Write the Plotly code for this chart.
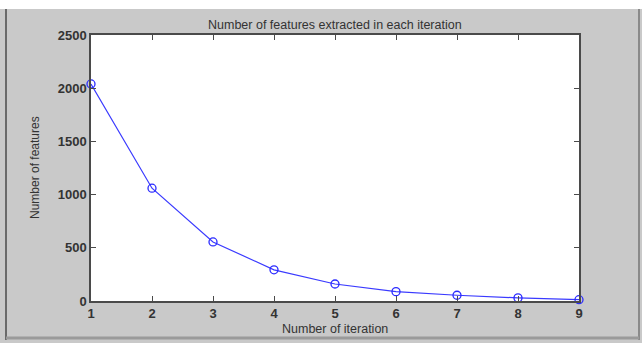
import plotly.graph_objects as go

iterations = [1, 2, 3, 4, 5, 6, 7, 8, 9]
features = [2040, 1060, 555, 293, 160, 88, 54, 29, 12]
y_ticks = [0, 500, 1000, 1500, 2000, 2500]

W, H = 642, 343
L, R, T, B = 91, 63, 35, 42
pw, ph = W - L - R, H - T - B

def px(x):
    return (x - L) / pw

def py(y):
    return 1 - (y - T) / ph

BG = "#c9c9c9"
AX = "#4a4a4a"
TXT = "#333333"

fig = go.Figure()
fig.add_trace(go.Scatter(
    x=iterations, y=features, mode="lines+markers",
    line=dict(color="#3a3aff", width=1.2),
    marker=dict(symbol="circle-open", size=8, color="#2a2aff", line=dict(width=1.3)),
    cliponaxis=False, showlegend=False,
))

axis_common = dict(
    showgrid=False, zeroline=False, showline=True, linecolor=AX, linewidth=1.5,
    mirror="ticks", ticks="inside", ticklen=5, tickcolor=AX, tickwidth=1,
    tickfont=dict(family="Liberation Sans, Arial", size=13, color=TXT, weight="bold"),
)
fig.update_xaxes(range=[1, 9], tickvals=iterations, **axis_common)
fig.update_yaxes(range=[0, 2500], tickvals=y_ticks, **axis_common)

shapes = [
    dict(type="rect", xref="paper", yref="paper", x0=px(0), x1=px(W), y0=py(9), y1=py(0),
         fillcolor="white", line=dict(width=0), layer="below"),
    dict(type="line", xref="paper", yref="paper", x0=px(6), x1=px(6), y0=py(9), y1=py(340),
         line=dict(color="#6a6a6a", width=2)),
    dict(type="line", xref="paper", yref="paper", x0=px(639), x1=px(639), y0=py(9), y1=py(340),
         line=dict(color="#8a8a8a", width=2)),
    dict(type="line", xref="paper", yref="paper", x0=px(6), x1=px(639), y0=py(338), y1=py(338),
         line=dict(color="#9a9a9a", width=3)),
]

annotations = [
    dict(text="Number of features extracted in each iteration", xref="paper", yref="paper",
         x=0.5, y=py(25), xanchor="center", yanchor="middle", showarrow=False,
         font=dict(family="Liberation Sans, Arial", size=12.5, color=TXT)),
    dict(text="Number of iteration", xref="paper", yref="paper",
         x=0.5, y=py(329), xanchor="center", yanchor="middle", showarrow=False,
         font=dict(family="Liberation Sans, Arial", size=12.5, color=TXT)),
    dict(text="Number of features", xref="paper", yref="paper",
         x=px(35), y=py(168), xanchor="center", yanchor="middle", showarrow=False,
         textangle=-90,
         font=dict(family="Liberation Sans Narrow, Liberation Sans, Arial", size=12, color=TXT)),
]

fig.update_layout(
    width=W, height=H, margin=dict(l=L, r=R, t=T, b=B),
    paper_bgcolor=BG, plot_bgcolor="white",
    shapes=shapes, annotations=annotations,
)

fig.write_html("out.html")
